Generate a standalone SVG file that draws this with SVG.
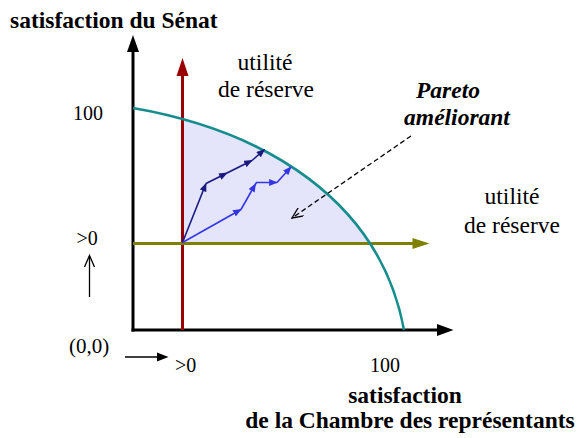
<svg xmlns="http://www.w3.org/2000/svg" width="579" height="438" viewBox="0 0 579 438">
<style>
text{font-family:'Liberation Serif','Times New Roman',Times,'DejaVu Serif',serif}
.b{font-weight:bold;font-size:23.5px;fill:#000}
.r{font-size:23.5px;fill:#000}
.n{font-size:20px;fill:#000}
.bi{font-weight:bold;font-style:italic;font-size:23.5px;fill:#000}
.navy{stroke:#1a1a80;stroke-width:1.6;fill:none}
.blue{stroke:#3535e8;stroke-width:1.6;fill:none}
</style>
<defs>
<marker id="hn" viewBox="0 0 10 8" refX="9" refY="4" markerWidth="9" markerHeight="7" markerUnits="userSpaceOnUse" orient="auto"><path d="M0,0 L10,4 L0,8 Z" fill="#1a1a80"/></marker>
<marker id="hb" viewBox="0 0 10 8" refX="9" refY="4" markerWidth="9" markerHeight="7" markerUnits="userSpaceOnUse" orient="auto"><path d="M0,0 L10,4 L0,8 Z" fill="#3535e8"/></marker>
<marker id="hv" viewBox="0 0 12 10" refX="11" refY="5" markerWidth="12" markerHeight="10" markerUnits="userSpaceOnUse" orient="auto"><path d="M0,0 L11,5 L0,10" fill="none" stroke="#000" stroke-width="1.3"/></marker>
<clipPath id="quad"><rect x="182.5" y="0" width="300" height="243.5"/></clipPath>
</defs>
<g id="region">
<path d="M133,108 C265,131 380,200 404,330 L133,330 Z" fill="#e4e4fa" clip-path="url(#quad)"/>
</g>
<g id="connectors">
<line x1="133" y1="331.5" x2="133" y2="50" stroke="#000" stroke-width="3"/>
<path d="M133,35 L127,52 L139,52 Z" fill="#000"/>
<line x1="131.5" y1="330" x2="438" y2="330" stroke="#000" stroke-width="3"/>
<path d="M453.5,330 L437,324 L437,336 Z" fill="#000"/>
<line x1="182.5" y1="330" x2="182.5" y2="74" stroke="#990000" stroke-width="3"/>
<path d="M182.5,58 L176.5,76 L188.5,76 Z" fill="#990000"/>
<line x1="133" y1="243.5" x2="414" y2="243.5" stroke="#808000" stroke-width="3"/>
<path d="M429.5,243.5 L412.5,238 L412.5,249 Z" fill="#808000"/>
<path d="M133,108 C265,131 380,200 404,330" fill="none" stroke="#168d8d" stroke-width="2.6"/>
<polyline class="navy" points="182.5,242.5 206,183.5" marker-end="url(#hn)"/>
<polyline class="navy" points="206,183.5 227,173" marker-end="url(#hn)"/>
<polyline class="navy" points="227,173 252,160.5" marker-end="url(#hn)"/>
<polyline class="navy" points="252,160.5 264.5,149.5" marker-end="url(#hn)"/>
<polyline class="blue" points="182.5,242.5 241,209.5" marker-end="url(#hb)"/>
<polyline class="blue" points="241,209.5 255.5,184" marker-end="url(#hb)"/>
<polyline class="blue" points="255.5,184 256.5,182.5 277,182.5" marker-end="url(#hb)"/>
<polyline class="blue" points="277,182.5 291,167" marker-end="url(#hb)"/>
<line x1="411" y1="136" x2="292" y2="218" stroke="#000" stroke-width="1.3" stroke-dasharray="5,3" marker-end="url(#hv)"/>
<line x1="89.5" y1="297" x2="89.5" y2="256" stroke="#000" stroke-width="1.3"/>
<path d="M84.5,267 L89.5,255.5 L94.5,267" fill="none" stroke="#000" stroke-width="1.3"/>
<line x1="125" y1="357" x2="160" y2="357" stroke="#000" stroke-width="1.5"/>
<path d="M168.5,357 L157,352.5 L157,361.5 Z" fill="#000"/>
</g>
<g id="title-senat"><text class="b" x="10" y="28" font-family="Liberation Serif">satisfaction du Sénat</text></g>
<g id="reserve-senat"><text class="r" x="265" y="70" text-anchor="middle">utilité</text><text class="r" x="266" y="97" text-anchor="middle">de réserve</text></g>
<g id="reserve-chambre"><text class="r" x="512" y="204" text-anchor="middle">utilité</text><text class="r" x="512" y="233" text-anchor="middle">de réserve</text></g>
<g id="pareto"><text class="bi" x="448" y="98" text-anchor="middle">Pareto</text><text class="bi" x="457" y="125" text-anchor="middle">améliorant</text></g>
<g id="ticks">
<text class="n" x="73" y="120">100</text>
<text class="n" x="76.5" y="245">&gt;0</text>
<text class="n" x="69" y="353" style="font-size:21px">(0,0)</text>
<text class="n" x="175" y="372">&gt;0</text>
<text class="n" x="370" y="372">100</text>
</g>
<g id="title-chambre"><text class="b" x="405" y="403" text-anchor="middle">satisfaction</text><text class="b" x="410" y="428" text-anchor="middle">de la Chambre des représentants</text></g>
</svg>
